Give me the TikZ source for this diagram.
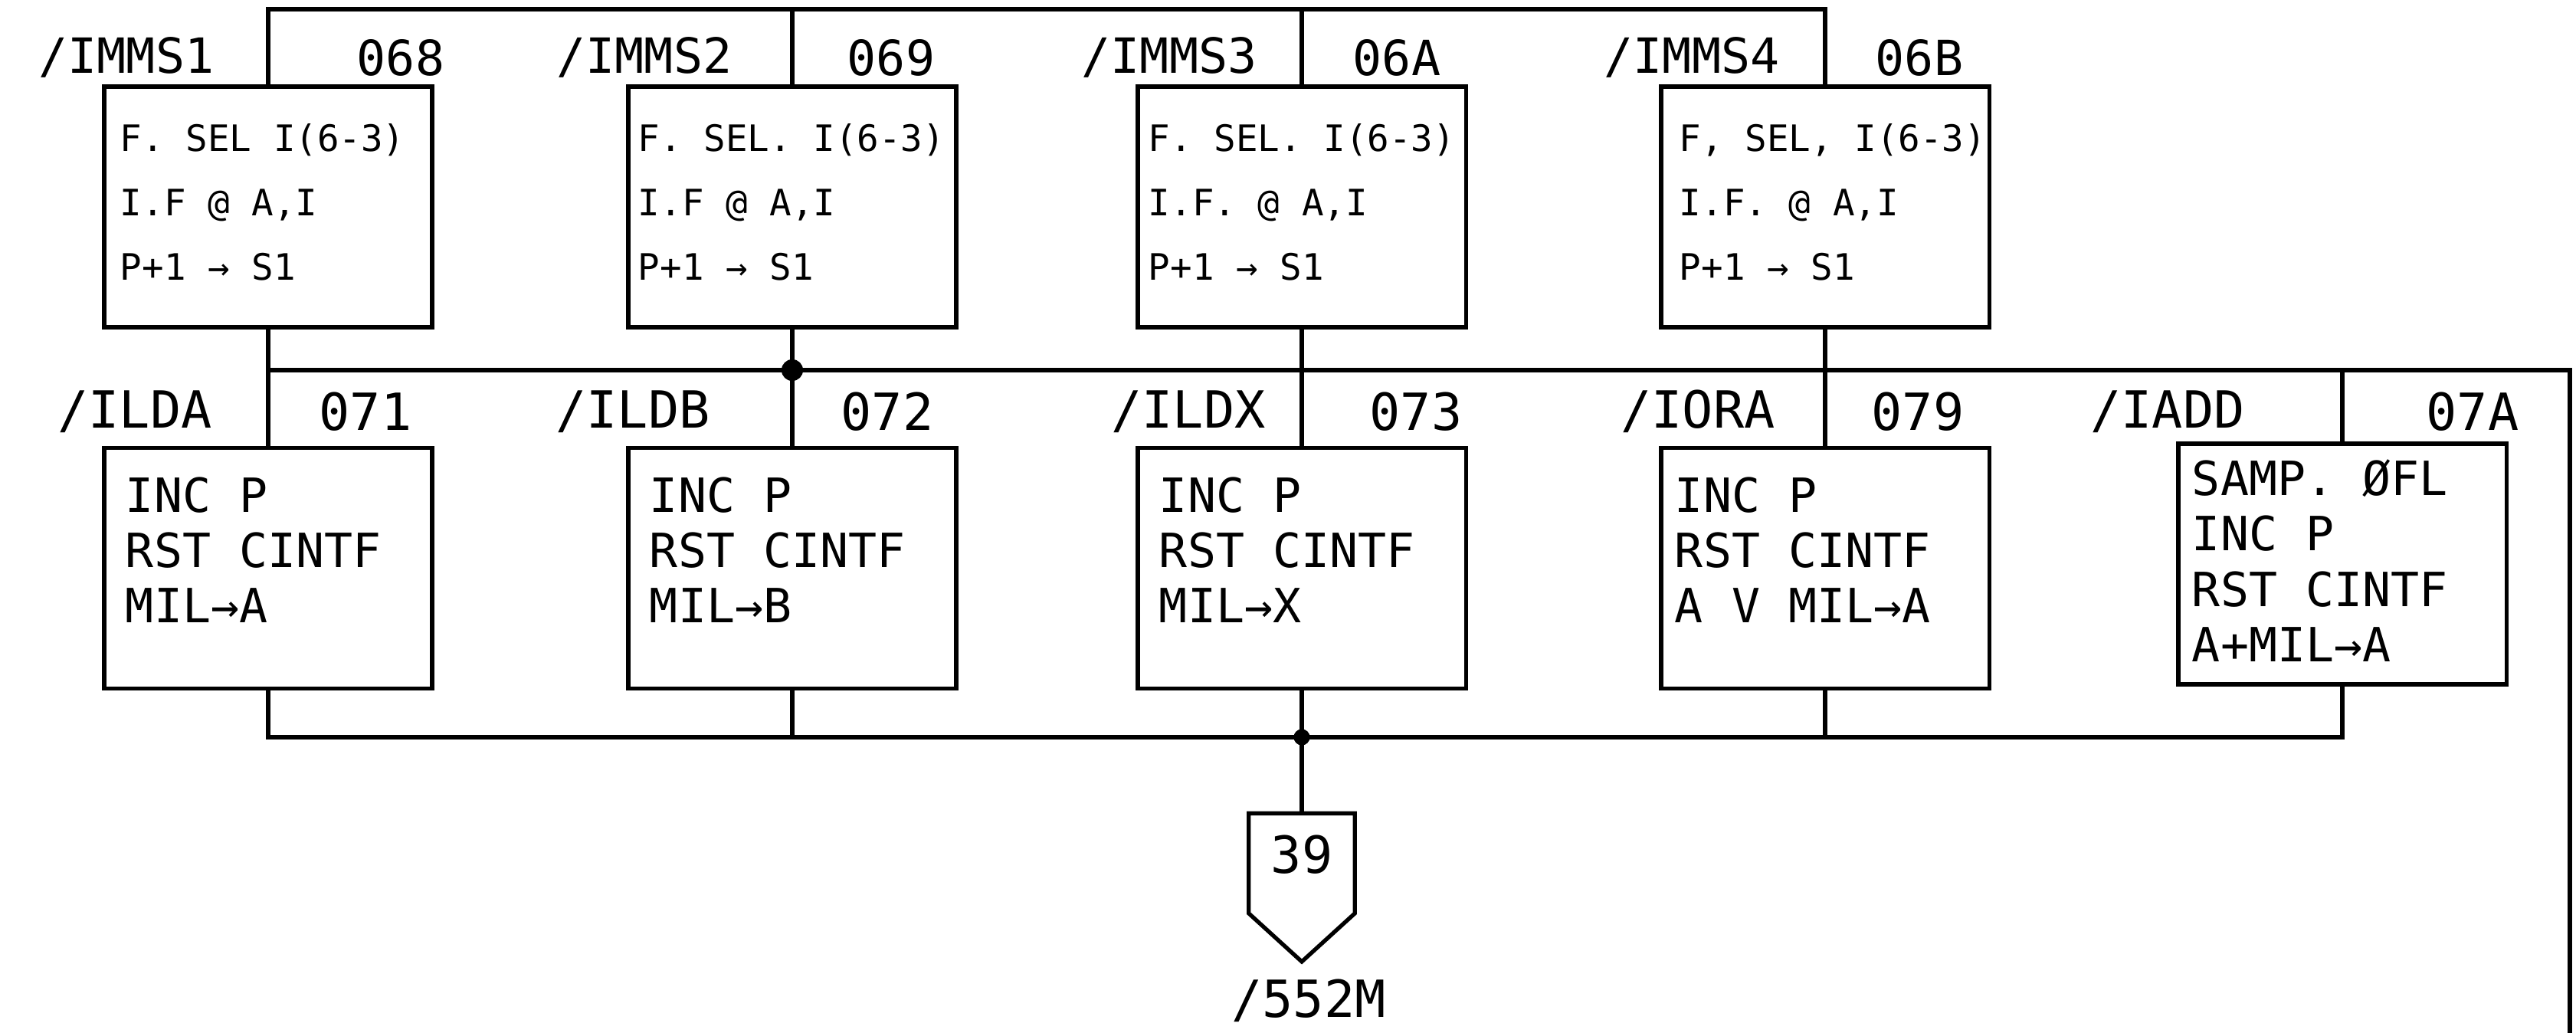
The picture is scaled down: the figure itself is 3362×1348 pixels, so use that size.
\documentclass[tikz,border=0pt]{standalone}
\usepackage{fontspec}
\newfontfamily\handfont{DejaVu Sans Mono}
\usetikzlibrary{positioning, calc}

\begin{document}
\begin{tikzpicture}[
      x=0.01cm, y=-0.01cm,
      line/.style={line width=1.5pt},
      opbox/.style={rectangle, draw, line width=1.5pt, minimum width=4.28cm, minimum height=3.14cm, inner sep=0pt},
      seltext/.style={align=left, inner sep=0pt, font=\handfont\fontsize{13.5}{24}\selectfont},
      ldtext/.style={align=left, inner sep=0pt, font=\handfont\fontsize{17.5}{20.5}\selectfont},
      toptag/.style={inner sep=0pt, font=\handfont\fontsize{18}{20}\selectfont},
      lowtag/.style={inner sep=0pt, font=\handfont\fontsize{19}{22}\selectfont},
      exitbox/.style={minimum width=1.37cm, minimum height=1.92cm, inner sep=0pt}
    ]
    \useasboundingbox (0,0) rectangle (3362,1348);

    % bus levels
    \coordinate (top) at (0,12);
    \coordinate (bus2) at (0,483);
    \coordinate (bus3) at (0,962);
    \coordinate (edge) at (3354,1348);

    % first row
    \node[opbox] (mms1) at (350,270) {};
    \node[opbox] (mms2) at (1034,270) {};
    \node[opbox] (mms3) at (1699,270) {};
    \node[opbox] (mms4) at (2382,270) {};

    \node[seltext, below right=0.5cm and 0.23cm of mms1.north west] {F. SEL I(6-3)\\I.F @ A,I\\P+1 → S1};
    \node[seltext, below right=0.5cm and 0.15cm of mms2.north west] {F. SEL. I(6-3)\\I.F @ A,I\\P+1 → S1};
    \node[seltext, below right=0.5cm and 0.16cm of mms3.north west] {F. SEL. I(6-3)\\I.F. @ A,I\\P+1 → S1};
    \node[seltext, below right=0.5cm and 0.26cm of mms4.north west] {F, SEL, I(6-3)\\I.F. @ A,I\\P+1 → S1};

    \node[toptag] (mms1name) at (165,75) {/IMMS1};
    \node[toptag] (mms1addr) at (523,75) {068};
    \node[toptag] (mms2name) at (841,75) {/IMMS2};
    \node[toptag] (mms2addr) at (1163,75) {069};
    \node[toptag] (mms3name) at (1526,75) {/IMMS3};
    \node[toptag] (mms3addr) at (1823,75) {06A};
    \node[toptag] (mms4name) at (2208,75) {/IMMS4};
    \node[toptag] (mms4addr) at (2505,75) {06B};

    % second row
    \node[opbox, below=1.52cm of mms1] (lda) {};
    \node[opbox, below=1.52cm of mms2] (ldb) {};
    \node[opbox, below=1.52cm of mms3] (ldx) {};
    \node[opbox, below=1.52cm of mms4] (ora) {};
    \node[opbox] (add) at (3057,736) {};

    \node[ldtext, below right=0.4cm and 0.3cm of lda.north west] {INC P\\RST CINTF\\MIL→A};
    \node[ldtext, below right=0.4cm and 0.3cm of ldb.north west] {INC P\\RST CINTF\\MIL→B};
    \node[ldtext, below right=0.4cm and 0.3cm of ldx.north west] {INC P\\RST CINTF\\MIL→X};
    \node[ldtext, below right=0.4cm and 0.2cm of ora.north west] {INC P\\RST CINTF\\A V MIL→A};
    \node[ldtext, below right=0.23cm and 0.2cm of add.north west] {SAMP. ØFL\\INC P\\RST CINTF\\A+MIL→A};

    \node[lowtag] (ldaname) at (176,537) {/ILDA};
    \node[lowtag] (ldaaddr) at (477,537) {071};
    \node[lowtag] (ldbname) at (826,537) {/ILDB};
    \node[lowtag] (ldbaddr) at (1158,537) {072};
    \node[lowtag] (ldxname) at (1551,537) {/ILDX};
    \node[lowtag] (ldxaddr) at (1848,537) {073};
    \node[lowtag] (oraname) at (2216,537) {/IORA};
    \node[lowtag] (oraaddr) at (2503,537) {079};
    \node[lowtag] (addname) at (2829,537) {/IADD};
    \node[lowtag] (addaddr) at (3227,537) {07A};

    % off-page exit
    \node[exitbox, below=1.6cm of ldx] (exit) {};
    \draw[line] (exit.north west) -- (exit.north east) -- ([yshift=0.63cm]exit.south east)
      -- (exit.south) -- ([yshift=0.63cm]exit.south west) -- cycle;
    \node[lowtag, below=0.28cm of exit.north] (exitnum) {39};
    \node[lowtag, font=\handfont\fontsize{19}{22}\selectfont] (exitname) at (1708,1306) {/552M};

    % buses and connections
    \draw[line] (mms1.north) |- (mms4.north |- top) -- (mms4.north);
    \draw[line] (mms2.north) -- (mms2.north |- top);
    \draw[line] (mms3.north) -- (mms3.north |- top);

    \draw[line] (mms1.south) -- (lda.north);
    \draw[line] (mms2.south) -- (ldb.north);
    \draw[line] (mms3.south) -- (ldx.north);
    \draw[line] (mms4.south) -- (ora.north);
    \draw[line] (mms1.south |- bus2) -- (bus2 -| edge) -- (edge);
    \draw[line] (add.north) -- (add.north |- bus2);
    \fill (mms2.south |- bus2) circle[radius=4pt];

    \draw[line] (lda.south) |- (add.south |- bus3) -- (add.south);
    \draw[line] (ldb.south) -- (ldb.south |- bus3);
    \draw[line] (ora.south) -- (ora.south |- bus3);
    \draw[line] (ldx.south) -- (exit.north);
    \fill (ldx.south |- bus3) circle[radius=3pt];
  \end{tikzpicture}
\end{document}
